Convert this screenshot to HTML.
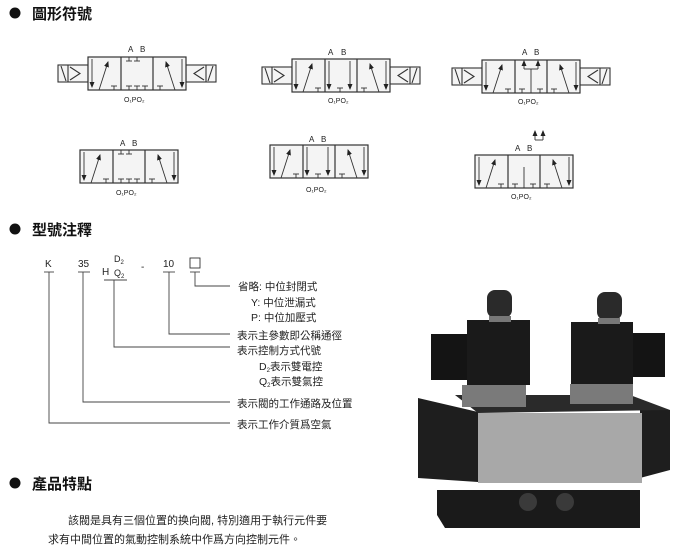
<!DOCTYPE html>
<html><head><meta charset="utf-8"><style>
body{margin:0;background:#fff;}
svg{display:block;font-family:"Liberation Sans","Noto Sans CJK TC",sans-serif;}
</style></head><body>
<svg width="689" height="552" viewBox="0 0 689 552">
<defs>
<marker id="ah" markerWidth="6" markerHeight="6" refX="5" refY="3" orient="auto" markerUnits="userSpaceOnUse"><path d="M0,0.5 L6,3 L0,5.5z" fill="#222"/></marker>
<g id="lc" stroke="#333" stroke-width="0.9" fill="none">
<line x1="4" y1="2" x2="4" y2="30" marker-end="url(#ah)"/>
<line x1="11" y1="33" x2="20" y2="5" marker-end="url(#ah)"/>
<line x1="23" y1="29" x2="29" y2="29"/><line x1="26" y1="29" x2="26" y2="33"/>
</g>
<g id="rc" stroke="#333" stroke-width="0.9" fill="none">
<line x1="29" y1="2" x2="29" y2="30" marker-end="url(#ah)"/>
<line x1="22" y1="33" x2="13" y2="5" marker-end="url(#ah)"/>
<line x1="4" y1="29" x2="10" y2="29"/><line x1="7" y1="29" x2="7" y2="33"/>
</g>
<g id="cc" stroke="#333" stroke-width="0.9" fill="none">
<line x1="8" y1="0" x2="8" y2="4"/><line x1="5" y1="4" x2="11" y2="4"/>
<line x1="16" y1="0" x2="16" y2="4"/><line x1="13" y1="4" x2="19" y2="4"/>
<line x1="5" y1="29" x2="11" y2="29"/><line x1="8" y1="29" x2="8" y2="33"/>
<line x1="13" y1="29" x2="19" y2="29"/><line x1="16" y1="29" x2="16" y2="33"/>
<line x1="21" y1="29" x2="27" y2="29"/><line x1="24" y1="29" x2="24" y2="33"/>
</g>
<g id="box" stroke="#333" stroke-width="1.2" fill="#f4f4f4">
<rect x="0" y="0" width="98" height="33"/><line x1="33" y1="0" x2="33" y2="33"/><line x1="65" y1="0" x2="65" y2="33"/>
</g>
<g id="solL" stroke="#333" stroke-width="1.1" fill="#f4f4f4">
<rect x="0" y="0" width="30" height="17"/><line x1="10" y1="0" x2="10" y2="17"/>
<polyline points="3,1 8,16" fill="none"/><polyline points="12,2 22,8.5 12,15" fill="none"/>
</g>
<g id="solR" stroke="#333" stroke-width="1.1" fill="#f4f4f4">
<rect x="0" y="0" width="30" height="17"/><line x1="20" y1="0" x2="20" y2="17"/>
<polyline points="27,1 22,16" fill="none"/><polyline points="18,2 8,8.5 18,15" fill="none"/>
</g>
</defs>

<!-- headers -->
<g font-size="15" font-weight="bold" fill="#111">
<circle cx="15" cy="13" r="5.5"/><text x="32" y="19">圖形符號</text>
<circle cx="15" cy="229" r="5.5"/><text x="32" y="235">型號注釋</text>
<circle cx="15" cy="483" r="5.5"/><text x="32" y="489">產品特點</text>
</g>

<g font-size="8" fill="#222">
<!-- sym1 -->
<use href="#solL" x="58" y="65"/><use href="#solR" x="186" y="65"/>
<g transform="translate(88,57)"><use href="#box"/><use href="#lc"/><use href="#cc" x="33"/><use href="#rc" x="65"/></g>
<text x="128" y="52">A</text><text x="140" y="52">B</text><text x="124" y="102" font-size="7">O₁PO₂</text>
<!-- sym2 -->
<use href="#solL" x="262" y="67"/><use href="#solR" x="390" y="67"/>
<g transform="translate(292,59)"><use href="#box"/><use href="#lc"/>
<g transform="translate(33,0)" stroke="#333" stroke-width="0.9" fill="none">
<line x1="4" y1="2" x2="4" y2="30" marker-end="url(#ah)"/><line x1="12" y1="29" x2="18" y2="29"/><line x1="15" y1="29" x2="15" y2="33"/><line x1="25" y1="2" x2="25" y2="30" marker-end="url(#ah)"/></g>
<use href="#rc" x="65"/></g>
<text x="328" y="55">A</text><text x="341" y="55">B</text><text x="328" y="103" font-size="7">O₁PO₂</text>
<!-- sym3 -->
<use href="#solL" x="452" y="68"/><use href="#solR" x="580" y="68"/>
<g transform="translate(482,60)"><use href="#box"/><use href="#lc"/>
<g transform="translate(33,0)" stroke="#333" stroke-width="0.9" fill="none">
<line x1="16" y1="33" x2="16" y2="9"/><line x1="9" y1="9" x2="23" y2="9"/>
<line x1="9" y1="9" x2="9" y2="1" marker-end="url(#ah)"/><line x1="23" y1="9" x2="23" y2="1" marker-end="url(#ah)"/>
<line x1="4" y1="29" x2="10" y2="29"/><line x1="7" y1="29" x2="7" y2="33"/><line x1="22" y1="29" x2="28" y2="29"/><line x1="25" y1="29" x2="25" y2="33"/></g>
<use href="#rc" x="65"/></g>
<text x="522" y="55">A</text><text x="534" y="55">B</text><text x="518" y="104" font-size="7">O₁PO₂</text>
<!-- sym4 -->
<g transform="translate(80,150)"><use href="#box"/><use href="#lc"/><use href="#cc" x="33"/><use href="#rc" x="65"/></g>
<text x="120" y="146">A</text><text x="132" y="146">B</text><text x="116" y="195" font-size="7">O₁PO₂</text>
<!-- sym5 -->
<g transform="translate(270,145)"><use href="#box"/><use href="#lc"/>
<g transform="translate(33,0)" stroke="#333" stroke-width="0.9" fill="none">
<line x1="4" y1="2" x2="4" y2="30" marker-end="url(#ah)"/><line x1="12" y1="29" x2="18" y2="29"/><line x1="15" y1="29" x2="15" y2="33"/><line x1="25" y1="2" x2="25" y2="30" marker-end="url(#ah)"/></g>
<use href="#rc" x="65"/></g>
<text x="309" y="142">A</text><text x="321" y="142">B</text><text x="306" y="192" font-size="7">O₁PO₂</text>
<!-- sym6 -->
<g transform="translate(475,155)"><use href="#box"/><use href="#lc"/>
<g transform="translate(33,0)" stroke="#333" stroke-width="0.9" fill="none">
<line x1="16" y1="33" x2="16" y2="12"/><line x1="4" y1="29" x2="10" y2="29"/><line x1="7" y1="29" x2="7" y2="33"/><line x1="22" y1="29" x2="28" y2="29"/><line x1="25" y1="29" x2="25" y2="33"/></g>
<use href="#rc" x="65"/></g>
<g stroke="#333" stroke-width="0.9" fill="none"><line x1="535" y1="140" x2="535" y2="131" marker-end="url(#ah)"/><line x1="543" y1="140" x2="543" y2="131" marker-end="url(#ah)"/><line x1="535" y1="140" x2="543" y2="140"/></g>
<text x="515" y="151">A</text><text x="527" y="151">B</text><text x="511" y="199" font-size="7">O₁PO₂</text>
</g>

<!-- model notation -->
<g font-size="10" fill="#222">
<text x="45" y="267">K</text><text x="78" y="267">35</text><text x="102" y="275">H</text>
<text x="114" y="262" font-size="9">D<tspan font-size="6" dy="2">2</tspan></text>
<text x="114" y="276" font-size="9">Q<tspan font-size="6" dy="2">2</tspan></text>
<text x="141" y="270">-</text><text x="163" y="267">10</text>
<rect x="190" y="258" width="10" height="10" fill="none" stroke="#333" stroke-width="0.9"/>
</g>
<g stroke="#444" stroke-width="0.9" fill="none">
<line x1="44" y1="272" x2="54" y2="272"/><line x1="78" y1="272" x2="90" y2="272"/><line x1="104" y1="280" x2="127" y2="280"/>
<line x1="163" y1="272" x2="175" y2="272"/><line x1="190" y1="272" x2="200" y2="272"/>
<polyline points="49,272 49,423 230,423"/>
<polyline points="83,272 83,402 230,402"/>
<polyline points="114,280 114,347 230,347"/>
<polyline points="169,272 169,334 230,334"/>
<polyline points="195,272 195,286 230,286"/>
</g>
<g font-size="10.5" fill="#222">
<text x="238" y="290">省略: 中位封閉式</text>
<text x="251" y="306">Y: 中位泄漏式</text>
<text x="251" y="321">P: 中位加壓式</text>
<text x="237" y="339">表示主參數即公稱通徑</text>
<text x="237" y="354">表示控制方式代號</text>
<text x="259" y="370">D<tspan font-size="6" dy="2">2</tspan><tspan dy="-2">表示雙電控</tspan></text>
<text x="259" y="385">Q<tspan font-size="6" dy="2">2</tspan><tspan dy="-2">表示雙氣控</tspan></text>
<text x="237" y="407">表示閥的工作通路及位置</text>
<text x="237" y="428">表示工作介質爲空氣</text>
</g>

<g font-size="11" fill="#222">
<text x="68" y="524">該閥是具有三個位置的换向閥, 特別適用于執行元件要</text>
<text x="48" y="543">求有中間位置的氣動控制系統中作爲方向控制元件。</text>
</g>

<!-- photo approximation -->
<g>
<polygon points="437,490 640,490 640,528 445,528 437,515" fill="#1a1a1a"/>
<polygon points="418,398 478,412 478,482 418,478" fill="#1e1e1e"/>
<polygon points="640,410 670,410 670,470 640,478" fill="#1e1e1e"/>
<polygon points="455,395 630,395 670,410 478,413" fill="#2a2a2a"/>
<rect x="478" y="413" width="164" height="70" fill="#a8a8a8"/>
<rect x="431" y="334" width="36" height="46" fill="#141414"/>
<rect x="467" y="320" width="63" height="65" fill="#1a1a1a"/>
<rect x="462" y="385" width="64" height="22" fill="#7a7a7a"/>
<rect x="487" y="290" width="25" height="28" rx="8" fill="#2a2a2a"/>
<rect x="489" y="316" width="22" height="6" fill="#777"/>
<rect x="571" y="322" width="62" height="62" fill="#1a1a1a"/>
<rect x="633" y="333" width="32" height="44" fill="#141414"/>
<rect x="570" y="384" width="63" height="20" fill="#7a7a7a"/>
<rect x="597" y="292" width="25" height="28" rx="8" fill="#2a2a2a"/>
<rect x="598" y="318" width="22" height="6" fill="#777"/>
<circle cx="528" cy="502" r="9" fill="#3a3a3a"/><circle cx="565" cy="502" r="9" fill="#3a3a3a"/>
</g>
</svg>
</body></html>
